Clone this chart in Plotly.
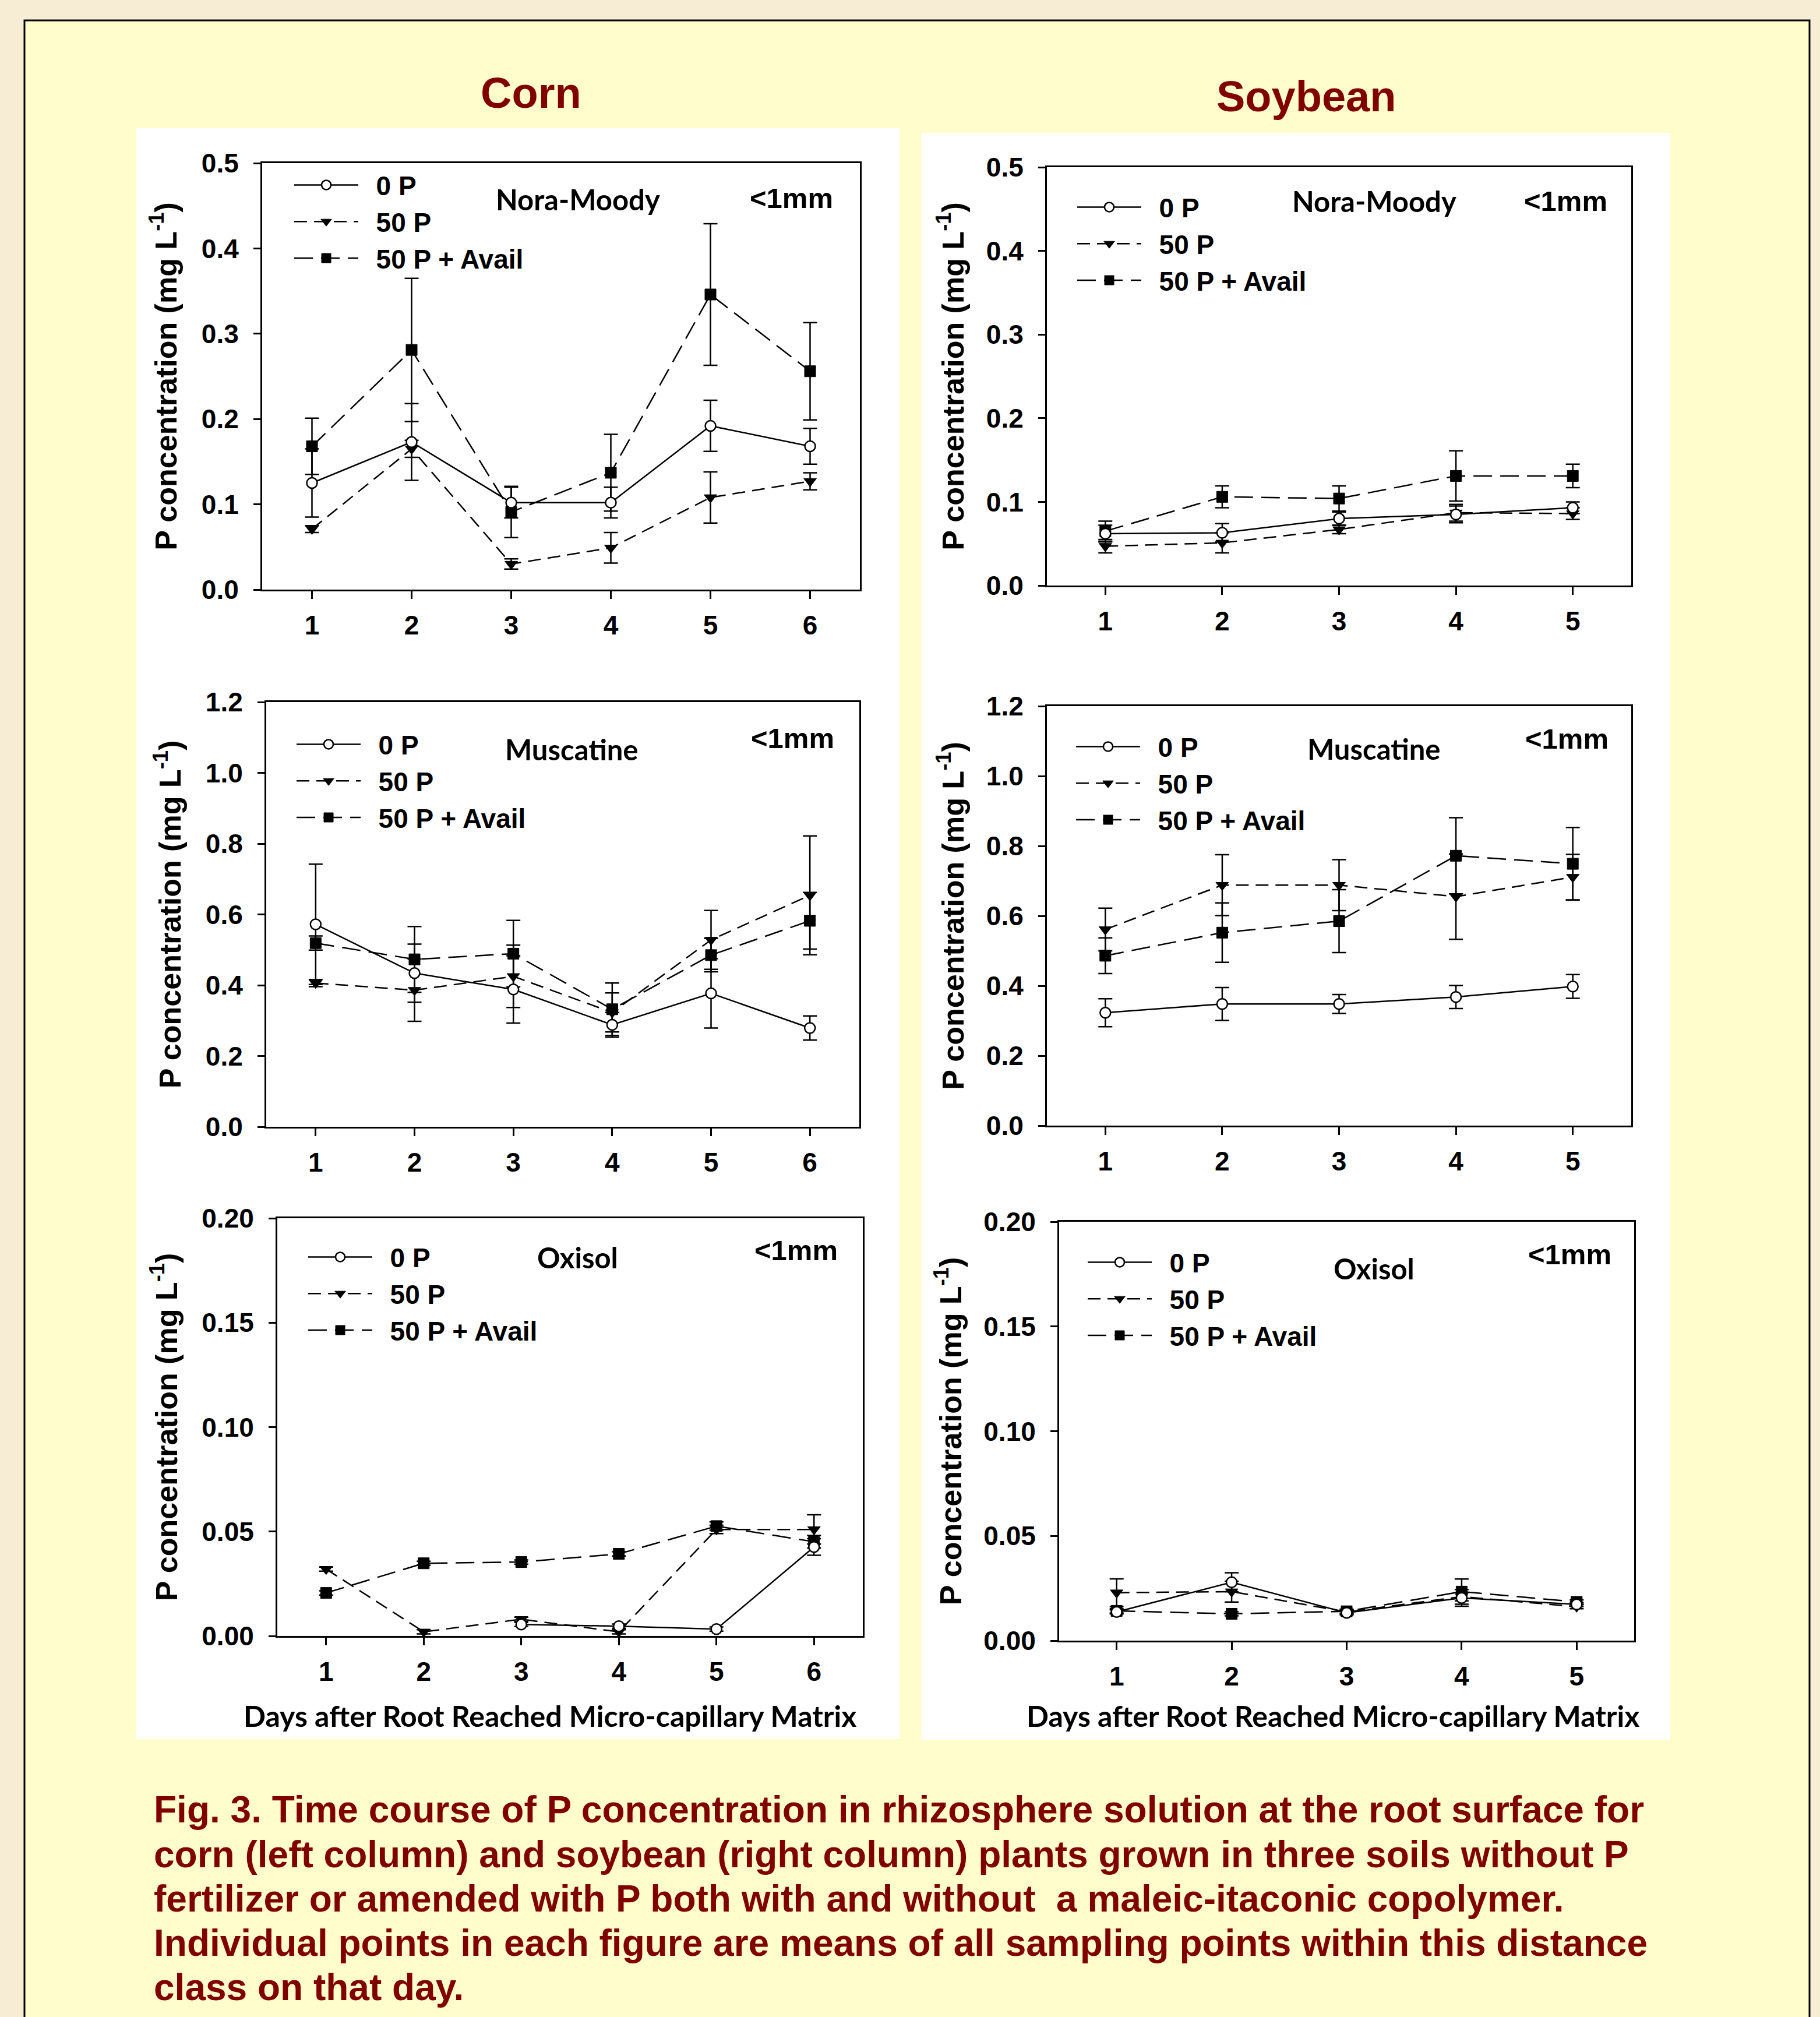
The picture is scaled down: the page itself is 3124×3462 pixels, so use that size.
import plotly.graph_objects as go

# ---------------- data ----------------
days_corn = [1, 2, 3, 4, 5, 6]
days_soy = [1, 2, 3, 4, 5]
series_names = ["0 P", "50 P", "50 P + Avail"]
soil_names = ["Nora-Moody", "Nora-Moody", "Muscatine", "Muscatine", "Oxisol", "Oxisol"]
crop_titles = ["Corn", "Soybean"]
size_class = "<1mm"

# Corn, Nora-Moody
cnm_0p = [0.125, 0.173, 0.102, 0.102, 0.192, 0.168]
cnm_0p_err = [0.040, 0.045, 0.018, 0.018, 0.030, 0.021]
cnm_50p = [0.071, 0.165, 0.030, 0.049, 0.108, 0.127]
cnm_50p_err = [0.004, 0.010, 0.006, 0.018, 0.030, 0.010]
cnm_av = [0.168, 0.281, 0.091, 0.137, 0.346, 0.256]
cnm_av_err = [0.033, 0.084, 0.030, 0.045, 0.083, 0.057]

# Soybean, Nora-Moody
snm_0p = [0.062, 0.063, 0.080, 0.085, 0.093]
snm_0p_err = [0.010, 0.011, 0.008, 0.010, 0.007]
snm_50p = [0.047, 0.051, 0.067, 0.087, 0.086]
snm_50p_err = [0.008, 0.012, 0.005, 0.010, 0.007]
snm_av = [0.065, 0.106, 0.104, 0.131, 0.131]
snm_av_err = [0.012, 0.013, 0.015, 0.030, 0.014]

# Corn, Muscatine
cmu_0p = [0.572, 0.434, 0.388, 0.288, 0.377, 0.279]
cmu_0p_err = [0.170, 0.082, 0.095, 0.035, 0.098, 0.034]
cmu_50p = [0.406, 0.386, 0.425, 0.323, 0.528, 0.654]
cmu_50p_err = [0.010, 0.088, 0.088, 0.055, 0.083, 0.168]
cmu_av = [0.519, 0.473, 0.489, 0.332, 0.485, 0.582]
cmu_av_err = [0.020, 0.093, 0.094, 0.074, 0.047, 0.080]

# Soybean, Muscatine
smu_0p = [0.323, 0.348, 0.348, 0.368, 0.398]
smu_0p_err = [0.040, 0.047, 0.027, 0.033, 0.034]
smu_50p = [0.561, 0.688, 0.688, 0.655, 0.711]
smu_50p_err = [0.061, 0.087, 0.073, 0.122, 0.065]
smu_av = [0.486, 0.552, 0.585, 0.772, 0.749]
smu_av_err = [0.051, 0.085, 0.090, 0.109, 0.104]

# Corn, Oxisol
cox_0p = [None, None, 0.0055, 0.0047, 0.0033, 0.0426]
cox_0p_err = [None, None, 0.001, 0.001, 0.001, 0.004]
cox_50p = [0.032, 0.002, 0.008, 0.002, 0.051, 0.051]
cox_50p_err = [0.001, 0.001, 0.001, 0.001, 0.002, 0.007]
cox_av = [0.0206, 0.0348, 0.0354, 0.0393, 0.0526, 0.0451]
cox_av_err = [0.001, 0.001, 0.001, 0.001, 0.002, 0.003]

# Soybean, Oxisol
sox_0p = [0.0137, 0.0279, 0.0133, 0.0204, 0.0173]
sox_0p_err = [0.001, 0.0045, 0.001, 0.004, 0.001]
sox_50p = [0.0229, 0.0234, 0.0137, 0.0210, 0.0162]
sox_50p_err = [0.0066, 0.005, 0.001, 0.002, 0.001]
sox_av = [0.0142, 0.0128, 0.0140, 0.0234, 0.0185]
sox_av_err = [0.001, 0.001, 0.001, 0.006, 0.001]

y_ticks_nm = [0.0, 0.1, 0.2, 0.3, 0.4, 0.5]
y_ticks_mu = [0.0, 0.2, 0.4, 0.6, 0.8, 1.0, 1.2]
y_ticks_ox = [0.00, 0.05, 0.10, 0.15, 0.20]
y_ticktext_nm = ["0.0", "0.1", "0.2", "0.3", "0.4", "0.5"]
y_ticktext_mu = ["0.0", "0.2", "0.4", "0.6", "0.8", "1.0", "1.2"]
y_ticktext_ox = ["0.00", "0.05", "0.10", "0.15", "0.20"]

caption_lines = [
    "Fig. 3. Time course of P concentration in rhizosphere solution at the root surface for",
    "corn (left column) and soybean (right column) plants grown in three soils without P",
    "fertilizer or amended with P both with and without  a maleic-itaconic copolymer.",
    "Individual points in each figure are means of all sampling points within this distance",
    "class on that day.",
]
y_title = "P concentration (mg L<sup>-1</sup>)"
x_title = "Days after Root Reached Micro-capillary Matrix"

panels = [
    (days_corn, [(cnm_0p, cnm_0p_err), (cnm_50p, cnm_50p_err), (cnm_av, cnm_av_err)], y_ticks_nm, y_ticktext_nm),
    (days_soy, [(snm_0p, snm_0p_err), (snm_50p, snm_50p_err), (snm_av, snm_av_err)], y_ticks_nm, y_ticktext_nm),
    (days_corn, [(cmu_0p, cmu_0p_err), (cmu_50p, cmu_50p_err), (cmu_av, cmu_av_err)], y_ticks_mu, y_ticktext_mu),
    (days_soy, [(smu_0p, smu_0p_err), (smu_50p, smu_50p_err), (smu_av, smu_av_err)], y_ticks_mu, y_ticktext_mu),
    (days_corn, [(cox_0p, cox_0p_err), (cox_50p, cox_50p_err), (cox_av, cox_av_err)], y_ticks_ox, y_ticktext_ox),
    (days_soy, [(sox_0p, sox_0p_err), (sox_50p, sox_50p_err), (sox_av, sox_av_err)], y_ticks_ox, y_ticktext_ox),
]

# ---------------- layout geometry (pixels) ----------------
W, H = 3124, 3462
def fx(p):
    return p / W
def fy(p):
    return 1 - p / H

axes_px = [  # left, right, top, bottom
    (450, 1476, 280, 1012),
    (1797, 2800, 287, 1005),
    (457, 1475, 1205, 1934),
    (1797, 2800, 1212, 1932),
    (476, 1481, 2091, 2808),
    (1818, 2805, 2097, 2816),
]
legend_px = [(500, 281), (1844, 319), (504, 1241), (1842, 1245), (524, 2121), (1862, 2130)]
soil_px = [(992, 342), (2359, 345), (981, 1286), (2358, 1285), (991, 2158), (2358, 2177)]
mm_px = [(1358, 340), (2687, 345), (1360, 1267), (2689, 1268), (1366, 2146), (2694, 2153)]
xtitle_px = [(944, 2945), (2288, 2945)]
ytitle_standoff = [26, 22, 26, 22, 26, 22]
caption_y_px = [3106, 3183, 3259, 3335, 3411]

ARIAL = "Liberation Sans, Arial, sans-serif"
CALIBRI = "Lato, Carlito, Calibri, sans-serif"
DARKRED = "#800000"

styles = [
    dict(dash="solid", marker=dict(symbol="circle", size=18, color="white", line=dict(color="black", width=2.5))),
    dict(dash="22px,12px", marker=dict(symbol="triangle-down", size=19, color="black", line=dict(color="black", width=1))),
    dict(dash="32px,14px", marker=dict(symbol="square", size=19, color="black", line=dict(color="black", width=1))),
]

fig = go.Figure()
layout = {}
for i, (days, series, yt, ytt) in enumerate(panels):
    n = "" if i == 0 else str(i + 1)
    leg = "legend" + n
    for k in [2, 1, 0]:
        vals, errs = series[k]
        st = styles[k]
        fig.add_trace(go.Scatter(
            x=days, y=vals, mode="lines+markers",
            name="\u00a0\u00a0" + series_names[k],
            line=dict(color="black", width=2.5, dash=st["dash"]),
            marker=st["marker"],
            error_y=dict(type="data", array=errs, color="black", thickness=2.5, width=12, visible=True),
            xaxis="x" + n, yaxis="y" + n, legend=leg, legendrank=k + 1,
            connectgaps=False, cliponaxis=False,
        ))
    l, r, t, b = axes_px[i]
    layout["xaxis" + n] = dict(
        domain=[fx(l), fx(r)], anchor="y" + n, range=[0.5, len(days) + 0.5],
        tickvals=days, ticktext=[str(d) for d in days],
        showline=True, linecolor="black", linewidth=3, mirror=True,
        ticks="outside", ticklen=13, tickwidth=2.5, tickcolor="black",
        showgrid=False, zeroline=False, automargin=False, ticklabelstandoff=6,
        tickfont=dict(family=ARIAL, size=46, color="black", weight="bold"),
    )
    layout["yaxis" + n] = dict(
        domain=[fy(b), fy(t)], anchor="x" + n, range=[yt[0], yt[-1]],
        tickvals=yt, ticktext=ytt,
        showline=True, linecolor="black", linewidth=3, mirror=True,
        ticks="outside", ticklen=12, tickwidth=2.5, tickcolor="black",
        showgrid=False, zeroline=False, automargin=False, ticklabelstandoff=16,
        tickfont=dict(family=ARIAL, size=46, color="black", weight="bold"),
        title=dict(text=y_title, standoff=ytitle_standoff[i],
                   font=dict(family=ARIAL, size=52, color="black", weight="bold")),
    )
    lx, ly = legend_px[i]
    layout[leg] = dict(
        x=fx(lx), y=fy(ly), xanchor="left", yanchor="top",
        bgcolor="rgba(0,0,0,0)", borderwidth=0, itemwidth=110,
        font=dict(family=ARIAL, size=46, color="black", weight="bold"),
        tracegroupgap=0, traceorder="normal",
    )

annotations = []
for i in range(6):
    sx, sy = soil_px[i]
    annotations.append(dict(x=fx(sx), y=fy(sy), xref="paper", yref="paper", text=soil_names[i],
                            showarrow=False, xanchor="center", yanchor="middle",
                            font=dict(family=CALIBRI, size=49, color="black", weight="bold")))
    mx, my = mm_px[i]
    annotations.append(dict(x=fx(mx), y=fy(my), xref="paper", yref="paper", text=size_class,
                            showarrow=False, xanchor="center", yanchor="middle",
                            font=dict(family=ARIAL, size=49, color="black", weight="bold")))
for (tx, ty) in xtitle_px:
    annotations.append(dict(x=fx(tx), y=fy(ty), xref="paper", yref="paper", text=x_title,
                            showarrow=False, xanchor="center", yanchor="middle",
                            font=dict(family=CALIBRI, size=50, color="black", weight="bold")))
annotations.append(dict(x=fx(911), y=fy(160), xref="paper", yref="paper", text=crop_titles[0],
                        showarrow=False, xanchor="center", yanchor="middle",
                        font=dict(family=ARIAL, size=74, color=DARKRED, weight="bold")))
annotations.append(dict(x=fx(2242), y=fy(165), xref="paper", yref="paper", text=crop_titles[1],
                        showarrow=False, xanchor="center", yanchor="middle",
                        font=dict(family=ARIAL, size=74, color=DARKRED, weight="bold")))
for line, cy in zip(caption_lines, caption_y_px):
    annotations.append(dict(x=fx(262), y=fy(cy), xref="paper", yref="paper", text=line,
                            showarrow=False, xanchor="left", yanchor="middle", align="left",
                            font=dict(family=ARIAL, size=64, color=DARKRED, weight="bold")))

shapes = [
    dict(type="rect", xref="paper", yref="paper", x0=fx(42), x1=fx(3106), y0=fy(3500), y1=fy(35),
         fillcolor="#FEFDCB", line=dict(color="black", width=3), layer="below"),
    dict(type="rect", xref="paper", yref="paper", x0=fx(234), x1=fx(1545), y0=fy(2985), y1=fy(220),
         fillcolor="white", line=dict(width=0), layer="below"),
    dict(type="rect", xref="paper", yref="paper", x0=fx(1581), x1=fx(2867), y0=fy(2986), y1=fy(228),
         fillcolor="white", line=dict(width=0), layer="below"),
]

fig.update_layout(
    width=W, height=H, margin=dict(l=0, r=0, t=0, b=0, autoexpand=False),
    paper_bgcolor="#F7EDD4", plot_bgcolor="rgba(0,0,0,0)",
    annotations=annotations, shapes=shapes, **layout,
)
fig.write_html("out.html", config={"displayModeBar": False},
               post_script="document.body.style.margin='0';")
